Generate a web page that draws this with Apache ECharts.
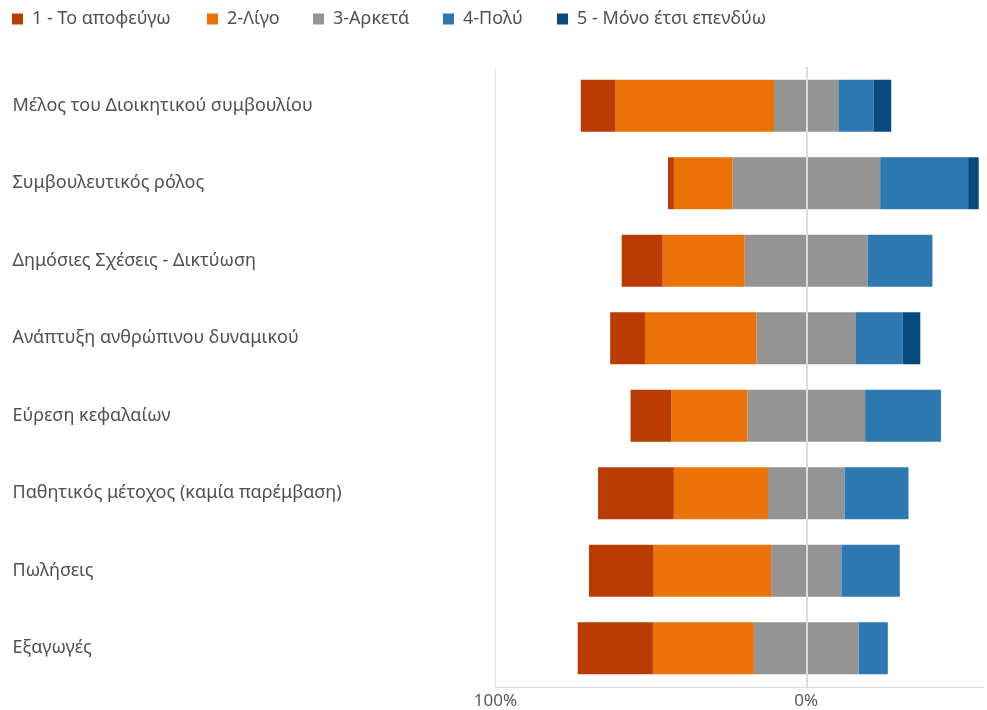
<!DOCTYPE html>
<html>
<head>
<meta charset="utf-8">
<script src="https://cdn.jsdelivr.net/npm/echarts@6/dist/echarts.min.js"></script>
<style>
  html, body { margin: 0; padding: 0; background: #ffffff; }
  #chart { width: 987px; height: 710px; }
</style>
</head>
<body>
<div id="chart"></div>
<script>
// Roles (top to bottom)
const categories = [
  'Μέλος του Διοικητικού συμβουλίου',
  'Συμβουλευτικός ρόλος',
  'Δημόσιες Σχέσεις - Δικτύωση',
  'Ανάπτυξη ανθρώπινου δυναμικού',
  'Εύρεση κεφαλαίων',
  'Παθητικός μέτοχος (καμία παρέμβαση)',
  'Πωλήσεις',
  'Εξαγωγές'
];

// Share of answers per level (%)
const level1 = [11.0, 1.9, 13.2, 11.2, 13.2, 24.4, 20.8, 24.2];
const level2 = [51.2, 18.8, 26.4, 35.9, 24.4, 30.3, 37.8, 32.5];
const level3 = [20.7, 47.6, 39.6, 32.0, 37.9, 24.6, 22.6, 33.7];
const level4 = [11.3, 28.3, 20.8, 15.0, 24.4, 20.6, 18.8, 9.4];
const level5 = [5.7, 3.4, 0, 5.7, 0, 0, 0, 0];

const seriesNames = ['1 - Το αποφεύγω', '2-Λίγο', '3-Αρκετά', '4-Πολύ', '5 - Μόνο έτσι επενδύω'];
const colors = ['#BB3C02', '#EA7208', '#949494', '#2E78B1', '#064A80'];

// x-axis tick labels (absolute percentages)
const tickLabels = [-100, 0];

const font = '"Noto Sans", "Open Sans", sans-serif';

const neg = arr => arr.map(v => -v);
const half = arr => arr.map(v => v / 2);

function bar(name, data, color, extra) {
  return Object.assign({
    name: name,
    type: 'bar',
    stack: 'total',
    data: data,
    barCategoryGap: '33%',
    itemStyle: { color: color },
    emphasis: { disabled: true }
  }, extra || {});
}

const series = [
  // left side: neutral half next to zero, then 2, then 1 outermost
  bar(seriesNames[2], neg(half(level3)), colors[2]),
  bar(seriesNames[1], neg(level2), colors[1]),
  bar(seriesNames[0], neg(level1), colors[0]),
  // right side: neutral half, then 4, then 5
  bar(seriesNames[2], half(level3), colors[2]),
  bar(seriesNames[3], level4, colors[3]),
  bar(seriesNames[4], level5, colors[4], {
    markLine: {
      silent: true,
      symbol: 'none',
      label: { show: false },
      lineStyle: { color: '#dcdcdc', width: 2, type: 'solid' },
      data: [{ xAxis: 0 }],
      z: 10
    }
  })
];

// one legend block per entry, placed along the top row
const legendLeft = [12, 207, 313, 443, 557];
const legends = seriesNames.map((n, i) => ({
  data: [n],
  left: legendLeft[i],
  top: 10,
  padding: 0,
  itemWidth: 11,
  itemHeight: 11,
  itemGap: 0,
  icon: 'rect',
  selectedMode: false,
  textStyle: { fontFamily: font, fontSize: 18, color: '#505050', padding: [0, 0, 0, 4] }
}));

const chart = echarts.init(document.getElementById('chart'), null, { renderer: 'canvas' });
chart.setOption({
  animation: false,
  color: colors,
  legend: legends,
  grid: { left: 495.5, right: 0, top: 67, bottom: 21, containLabel: false },
  xAxis: {
    type: 'value',
    min: -100,
    max: 57.2,
    interval: 100,
    axisLine: { show: true, lineStyle: { color: '#dcdcdc', width: 1 } },
    axisTick: { show: false },
    splitLine: { show: true, showMaxLine: false, lineStyle: { color: '#e3e3e3', width: 1 } },
    axisLabel: {
      margin: 6,
      fontFamily: font,
      fontSize: 17,
      color: '#595959',
      formatter: v => (tickLabels.indexOf(v) >= 0 ? Math.abs(v) + '%' : '')
    }
  },
  yAxis: {
    type: 'category',
    data: categories,
    inverse: true,
    axisLine: { show: false },
    axisTick: { show: false },
    axisLabel: {
      align: 'left',
      margin: 483,
      fontFamily: font,
      fontSize: 18,
      color: '#505050'
    }
  },
  series: series
});
</script>
</body>
</html>
